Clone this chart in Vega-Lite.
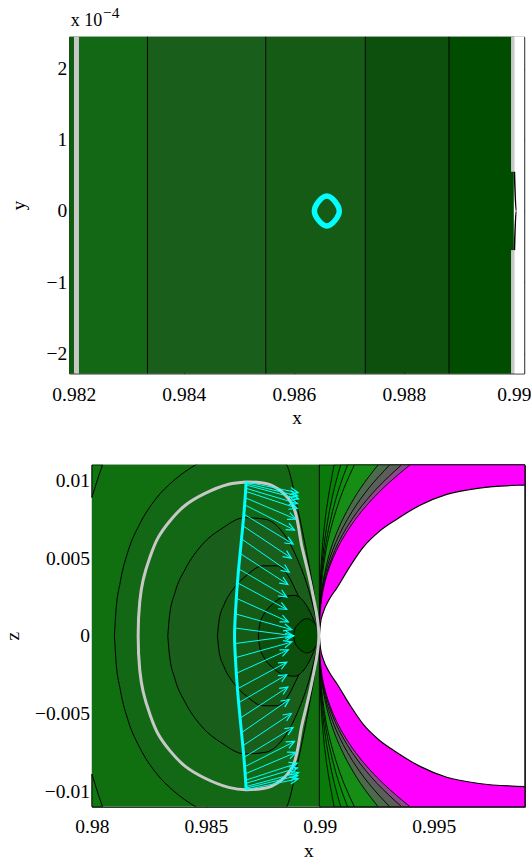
{
  "$schema": "https://vega.github.io/schema/vega-lite/v6.json",
  "padding": {"left": 2.2, "top": 4.8, "right": 6, "bottom": 3},
  "background": "white",
  "columns": 1,
  "spacing": 36,
  "config": {
    "view": {"stroke": null},
    "font": "Liberation Serif",
    "axis": {
      "grid": false, "domainColor": "black", "domainWidth": 1, "tickColor": "black", "tickWidth": 1, "tickSize": -5,
      "labelFont": "Liberation Serif", "labelFontSize": 19.5, "labelColor": "black", "labelPadding": 7.5,
      "titleFont": "Liberation Serif", "titleFontSize": 19.5, "titleFontWeight": "normal", "titleColor": "black",
      "labelFlush": false, "labelOverlap": false, "labelBound": false
    }
  },
  "concat": [
    {
      "width": 455, "height": 336.6,
      "resolve": {"axis": {"x": "independent", "y": "independent"}},
      "layer": [
        {
          "data": {"values": [
            {"x0": 0.981918, "x1": 0.98203, "b": "b0"},
            {"x0": 0.98203, "x1": 0.98334, "b": "b1"},
            {"x0": 0.98334, "x1": 0.98549, "b": "b2"},
            {"x0": 0.98549, "x1": 0.98730, "b": "b3"},
            {"x0": 0.98730, "x1": 0.98882, "b": "b4"},
            {"x0": 0.98882, "x1": 0.99000, "b": "b5"},
            {"x0": 0.99000, "x1": 0.990187, "b": "w"}
          ]},
          "mark": {"type": "rect"},
          "encoding": {
            "x": {"field": "x0", "type": "quantitative", "scale": {"domain": [0.981918, 0.990187], "nice": false, "zero": false}, "axis": null},
            "x2": {"field": "x1"},
            "color": {"field": "b", "type": "nominal", "legend": null,
                      "scale": {"domain": ["b0", "b1", "b2", "b3", "b4", "b5", "w"],
                                "range": ["#0e5c10", "#136816", "#1a5e1b", "#155a15", "#0d500d", "#004d00", "#ffffff"]}}
          }
        },
        {
          "data": {"values": [{"x": 0.98334}, {"x": 0.98549}, {"x": 0.98730}, {"x": 0.98882}]},
          "mark": {"type": "rule", "color": "black", "strokeWidth": 1},
          "encoding": {
            "x": {"field": "x", "type": "quantitative", "scale": {"domain": [0.981918, 0.990187], "nice": false, "zero": false}, "axis": null}
          }
        },
        {
          "data": {"values": [{"x": 0.98205}]},
          "mark": {"type": "rule", "color": "#c8c8c8", "strokeWidth": 5},
          "encoding": {
            "x": {"field": "x", "type": "quantitative", "scale": {"domain": [0.981918, 0.990187], "nice": false, "zero": false}, "axis": null}
          }
        },
        {
          "data": {"values": [{"x": 0.98998, "y1": 0.55, "y2": 2.444}, {"x": 0.98998, "y1": -2.28, "y2": -0.55}]},
          "mark": {"type": "rule", "color": "#c8c8c8", "strokeWidth": 3.5},
          "encoding": {
            "x": {"field": "x", "type": "quantitative", "scale": {"domain": [0.981918, 0.990187], "nice": false, "zero": false},
                  "axis": {"orient": "top", "values": [0.982, 0.984, 0.986, 0.988, 0.99], "labels": false,
                           "title": "x 10", "titleFontSize": 18, "titleX": 1, "titleY": -11.3, "titleAngle": 0, "titleAlign": "left", "titleBaseline": "alphabetic"}},
            "y": {"field": "y1", "type": "quantitative", "scale": {"domain": [-2.28, 2.444], "nice": false, "zero": false},
                  "axis": {"orient": "right", "values": [-2, -1, 0, 1, 2], "labels": false,
                           "title": "−4", "titleX": -421.7, "titleY": -19.7, "titleAngle": 0, "titleAlign": "left", "titleBaseline": "alphabetic", "titleFontSize": 15.5}},
            "y2": {"field": "y2"}
          }
        },
        {
          "data": {"values": [{"x": 0.99001, "y": 0.55, "i": 1}, {"x": 0.99004, "y": 0, "i": 2}, {"x": 0.99001, "y": -0.55, "i": 3}]},
          "mark": {"type": "line", "color": "black", "strokeWidth": 1.5, "interpolate": "monotone"},
          "encoding": {
            "x": {"field": "x", "type": "quantitative", "scale": {"domain": [0.981918, 0.990187], "nice": false, "zero": false}, "axis": null},
            "y": {"field": "y", "type": "quantitative", "scale": {"domain": [-2.28, 2.444], "nice": false, "zero": false}, "axis": null},
            "order": {"field": "i"}
          }
        },
        {
          "data": {"values": [{"x": 0.98660, "y": 0}]},
          "mark": {"type": "point", "filled": false, "opacity": 1, "stroke": "#00ffff", "strokeWidth": 5.5, "size": 900,
                   "shape": "M0,-1C0.35,-1,0.83,-0.35,0.83,0C0.83,0.35,0.35,1,0,1C-0.35,1,-0.83,0.35,-0.83,0C-0.83,-0.35,-0.35,-1,0,-1Z"},
          "encoding": {
            "x": {"field": "x", "type": "quantitative", "scale": {"domain": [0.981918, 0.990187], "nice": false, "zero": false},
                  "axis": {"orient": "bottom", "values": [0.982, 0.984, 0.986, 0.988, 0.99], "format": ".3~f", "title": "x",
                           "labelBaseline": "middle", "labelPadding": 26, "titleY": 44.5, "titleBaseline": "middle"}},
            "y": {"field": "y", "type": "quantitative", "scale": {"domain": [-2.28, 2.444], "nice": false, "zero": false},
                  "axis": {"orient": "left", "values": [-2, -1, 0, 1, 2], "format": "d",
                           "title": "y", "titleX": -45, "titleAngle": 270, "titleBaseline": "alphabetic"}}
          }
        }
      ]
    },
    {
      "width": 455.7, "height": 342,
      "resolve": {"axis": {"x": "independent", "y": "independent"}, "scale": {"color": "independent"}},
      "layer": [
        {
          "data": {"values": [{"a": 1}]},
          "mark": {"type": "rect", "color": "#107010"},
          "encoding": {
            "x": {"datum": 0.98, "type": "quantitative", "scale": {"domain": [0.98, 0.999], "range": [22.7, 455.7], "nice": false, "zero": false}, "axis": null},
            "x2": {"datum": 0.999}
          }
        },
        {
          "data": {"values": [
            {"g": "t", "x": 0.98, "a": 0.0089, "b": 0.011},
            {"g": "t", "x": 0.98015, "a": 0.0096, "b": 0.011},
            {"g": "t", "x": 0.98030, "a": 0.0103, "b": 0.011},
            {"g": "t", "x": 0.98047, "a": 0.011, "b": 0.011},
            {"g": "b", "x": 0.98, "a": -0.011, "b": -0.0089},
            {"g": "b", "x": 0.98015, "a": -0.011, "b": -0.0096},
            {"g": "b", "x": 0.98030, "a": -0.011, "b": -0.0103},
            {"g": "b", "x": 0.98047, "a": -0.011, "b": -0.011}
          ]},
          "mark": {"type": "area", "color": "#0f780f", "stroke": "black", "strokeWidth": 1, "clip": true},
          "encoding": {
            "x": {"field": "x", "type": "quantitative", "scale": {"domain": [0.98, 0.999], "range": [22.7, 455.7], "nice": false, "zero": false},
                  "axis": {"orient": "top", "values": [0.98, 0.985, 0.99, 0.995], "labels": false, "title": null}},
            "y": {"field": "a", "type": "quantitative", "scale": {"domain": [-0.011, 0.011], "nice": false, "zero": false},
                  "axis": {"orient": "right", "values": [-0.01, -0.005, 0, 0.005, 0.01], "labels": false, "title": null}},
            "y2": {"field": "b"},
            "detail": {"field": "g"}
          }
        },
        {
          "data": {"values": [
            {"l": "B", "x": 0.98099, "zt": 0, "zb": 0},
            {"l": "B", "x": 0.98105, "zt": 0.0015, "zb": -0.0015},
            {"l": "B", "x": 0.98125, "zt": 0.0035, "zb": -0.0035},
            {"l": "B", "x": 0.98160, "zt": 0.0055, "zb": -0.0055},
            {"l": "B", "x": 0.98210, "zt": 0.0072, "zb": -0.0072},
            {"l": "B", "x": 0.98280, "zt": 0.0088, "zb": -0.0088},
            {"l": "B", "x": 0.98360, "zt": 0.0100, "zb": -0.0100},
            {"l": "B", "x": 0.98455, "zt": 0.0110, "zb": -0.0110},
            {"l": "B", "x": 0.98600, "zt": 0.0120, "zb": -0.0120},
            {"l": "B", "x": 0.98700, "zt": 0.0122, "zb": -0.0122},
            {"l": "B", "x": 0.98800, "zt": 0.0118, "zb": -0.0118},
            {"l": "B", "x": 0.98855, "zt": 0.0110, "zb": -0.0110},
            {"l": "B", "x": 0.98907, "zt": 0.0079, "zb": -0.0079},
            {"l": "B", "x": 0.98952, "zt": 0.0046, "zb": -0.0046},
            {"l": "B", "x": 0.98981, "zt": 0.0021, "zb": -0.0021},
            {"l": "B", "x": 0.98998, "zt": 0, "zb": 0},
            {"l": "C", "x": 0.98333, "zt": 0, "zb": 0},
            {"l": "C", "x": 0.98340, "zt": 0.0012, "zb": -0.0012},
            {"l": "C", "x": 0.98365, "zt": 0.0028, "zb": -0.0028},
            {"l": "C", "x": 0.98410, "zt": 0.0043, "zb": -0.0043},
            {"l": "C", "x": 0.98480, "zt": 0.0058, "zb": -0.0058},
            {"l": "C", "x": 0.98570, "zt": 0.0069, "zb": -0.0069},
            {"l": "C", "x": 0.98670, "zt": 0.0076, "zb": -0.0076},
            {"l": "C", "x": 0.98760, "zt": 0.0075, "zb": -0.0075},
            {"l": "C", "x": 0.98840, "zt": 0.0066, "zb": -0.0066},
            {"l": "C", "x": 0.98900, "zt": 0.0050, "zb": -0.0050},
            {"l": "C", "x": 0.98950, "zt": 0.0030, "zb": -0.0030},
            {"l": "C", "x": 0.98980, "zt": 0.0013, "zb": -0.0013},
            {"l": "C", "x": 0.98998, "zt": 0, "zb": 0},
            {"l": "D", "x": 0.98551, "zt": 0, "zb": 0},
            {"l": "D", "x": 0.98558, "zt": 0.0010, "zb": -0.0010},
            {"l": "D", "x": 0.98580, "zt": 0.0020, "zb": -0.0020},
            {"l": "D", "x": 0.98620, "zt": 0.0030, "zb": -0.0030},
            {"l": "D", "x": 0.98680, "zt": 0.0039, "zb": -0.0039},
            {"l": "D", "x": 0.98750, "zt": 0.0045, "zb": -0.0045},
            {"l": "D", "x": 0.98810, "zt": 0.0045, "zb": -0.0045},
            {"l": "D", "x": 0.98860, "zt": 0.0039, "zb": -0.0039},
            {"l": "D", "x": 0.98905, "zt": 0.0026, "zb": -0.0026},
            {"l": "D", "x": 0.98960, "zt": 0.0011, "zb": -0.0011},
            {"l": "D", "x": 0.98998, "zt": 0, "zb": 0},
            {"l": "E", "x": 0.98730, "zt": 0, "zb": 0},
            {"l": "E", "x": 0.98736, "zt": 0.0007, "zb": -0.0007},
            {"l": "E", "x": 0.98755, "zt": 0.0014, "zb": -0.0014},
            {"l": "E", "x": 0.98790, "zt": 0.0020, "zb": -0.0020},
            {"l": "E", "x": 0.98840, "zt": 0.0025, "zb": -0.0025},
            {"l": "E", "x": 0.98890, "zt": 0.0026, "zb": -0.0026},
            {"l": "E", "x": 0.98930, "zt": 0.0022, "zb": -0.0022},
            {"l": "E", "x": 0.98965, "zt": 0.0013, "zb": -0.0013},
            {"l": "E", "x": 0.98998, "zt": 0, "zb": 0},
            {"l": "F", "x": 0.98886, "zt": 0, "zb": 0},
            {"l": "F", "x": 0.98890, "zt": 0.0004, "zb": -0.0004},
            {"l": "F", "x": 0.98902, "zt": 0.0007, "zb": -0.0007},
            {"l": "F", "x": 0.98922, "zt": 0.00098, "zb": -0.00098},
            {"l": "F", "x": 0.98943, "zt": 0.0011, "zb": -0.0011},
            {"l": "F", "x": 0.98965, "zt": 0.00098, "zb": -0.00098},
            {"l": "F", "x": 0.98982, "zt": 0.0007, "zb": -0.0007},
            {"l": "F", "x": 0.98993, "zt": 0.0004, "zb": -0.0004},
            {"l": "F", "x": 0.99000, "zt": 0, "zb": 0}
          ]},
          "mark": {"type": "area", "stroke": "black", "strokeWidth": 1, "clip": true, "interpolate": "monotone"},
          "encoding": {
            "x": {"field": "x", "type": "quantitative", "scale": {"domain": [0.98, 0.999], "range": [22.7, 455.7], "nice": false, "zero": false},
                  "axis": {"orient": "bottom", "values": [0.98, 0.985, 0.99, 0.995], "format": ".3~f", "title": "x",
                           "labelBaseline": "middle", "labelPadding": 24.4, "titleY": 44, "titleX": 239.2, "titleBaseline": "middle"}},
            "y": {"field": "zt", "type": "quantitative", "scale": {"domain": [-0.011, 0.011], "nice": false, "zero": false},
                  "axis": {"orient": "left", "offset": -22.7, "values": [-0.01, -0.005, 0, 0.005, 0.01], "format": ".3~f",
                           "title": "z", "titleX": -73.4, "titleAngle": 270, "titleBaseline": "alphabetic"}},
            "y2": {"field": "zb"},
            "color": {"field": "l", "type": "nominal", "legend": null,
                      "scale": {"domain": ["B", "C", "D", "E", "F"], "range": ["#136816", "#1a5e1b", "#155a15", "#0d500d", "#004d00"]}}
          }
        },
        {
          "data": {"values": [
            {"l": "R1", "z": -0.011, "x": 0.98998}, {"l": "R1", "z": 0, "x": 0.98998}, {"l": "R1", "z": 0.011, "x": 0.98998},
            {"l": "R2", "z": -0.011, "x": 0.99063}, {"l": "R2", "z": -0.0095, "x": 0.99044}, {"l": "R2", "z": -0.008, "x": 0.99028}, {"l": "R2", "z": -0.006, "x": 0.99013}, {"l": "R2", "z": -0.004, "x": 0.99004}, {"l": "R2", "z": -0.002, "x": 0.99000}, {"l": "R2", "z": 0, "x": 0.98998}, {"l": "R2", "z": 0.002, "x": 0.99000}, {"l": "R2", "z": 0.004, "x": 0.99004}, {"l": "R2", "z": 0.006, "x": 0.99013}, {"l": "R2", "z": 0.008, "x": 0.99028}, {"l": "R2", "z": 0.0095, "x": 0.99044}, {"l": "R2", "z": 0.011, "x": 0.99063},
            {"l": "R3", "z": -0.011, "x": 0.99092}, {"l": "R3", "z": -0.0095, "x": 0.99064}, {"l": "R3", "z": -0.008, "x": 0.99042}, {"l": "R3", "z": -0.006, "x": 0.99020}, {"l": "R3", "z": -0.004, "x": 0.99006}, {"l": "R3", "z": -0.002, "x": 0.99000}, {"l": "R3", "z": 0, "x": 0.98998}, {"l": "R3", "z": 0.002, "x": 0.99000}, {"l": "R3", "z": 0.004, "x": 0.99006}, {"l": "R3", "z": 0.006, "x": 0.99020}, {"l": "R3", "z": 0.008, "x": 0.99042}, {"l": "R3", "z": 0.0095, "x": 0.99064}, {"l": "R3", "z": 0.011, "x": 0.99092},
            {"l": "R4", "z": -0.011, "x": 0.99122}, {"l": "R4", "z": -0.0095, "x": 0.99085}, {"l": "R4", "z": -0.008, "x": 0.99056}, {"l": "R4", "z": -0.006, "x": 0.99027}, {"l": "R4", "z": -0.004, "x": 0.99009}, {"l": "R4", "z": -0.002, "x": 0.99000}, {"l": "R4", "z": 0, "x": 0.98998}, {"l": "R4", "z": 0.002, "x": 0.99000}, {"l": "R4", "z": 0.004, "x": 0.99009}, {"l": "R4", "z": 0.006, "x": 0.99027}, {"l": "R4", "z": 0.008, "x": 0.99056}, {"l": "R4", "z": 0.0095, "x": 0.99085}, {"l": "R4", "z": 0.011, "x": 0.99122},
            {"l": "R5", "z": -0.011, "x": 0.99152}, {"l": "R5", "z": -0.0095, "x": 0.99106}, {"l": "R5", "z": -0.008, "x": 0.99070}, {"l": "R5", "z": -0.006, "x": 0.99034}, {"l": "R5", "z": -0.004, "x": 0.99012}, {"l": "R5", "z": -0.002, "x": 0.99001}, {"l": "R5", "z": 0, "x": 0.98998}, {"l": "R5", "z": 0.002, "x": 0.99001}, {"l": "R5", "z": 0.004, "x": 0.99012}, {"l": "R5", "z": 0.006, "x": 0.99034}, {"l": "R5", "z": 0.008, "x": 0.99070}, {"l": "R5", "z": 0.0095, "x": 0.99106}, {"l": "R5", "z": 0.011, "x": 0.99152},
            {"l": "R6", "z": -0.011, "x": 0.99256}, {"l": "R6", "z": -0.0095, "x": 0.99179}, {"l": "R6", "z": -0.008, "x": 0.99118}, {"l": "R6", "z": -0.006, "x": 0.99058}, {"l": "R6", "z": -0.004, "x": 0.99021}, {"l": "R6", "z": -0.002, "x": 0.99002}, {"l": "R6", "z": 0, "x": 0.98998}, {"l": "R6", "z": 0.002, "x": 0.99002}, {"l": "R6", "z": 0.004, "x": 0.99021}, {"l": "R6", "z": 0.006, "x": 0.99058}, {"l": "R6", "z": 0.008, "x": 0.99118}, {"l": "R6", "z": 0.0095, "x": 0.99179}, {"l": "R6", "z": 0.011, "x": 0.99256},
            {"l": "R7", "z": -0.011, "x": 0.99307}, {"l": "R7", "z": -0.0095, "x": 0.99215}, {"l": "R7", "z": -0.008, "x": 0.99142}, {"l": "R7", "z": -0.006, "x": 0.99070}, {"l": "R7", "z": -0.004, "x": 0.99025}, {"l": "R7", "z": -0.002, "x": 0.99003}, {"l": "R7", "z": 0, "x": 0.98998}, {"l": "R7", "z": 0.002, "x": 0.99003}, {"l": "R7", "z": 0.004, "x": 0.99025}, {"l": "R7", "z": 0.006, "x": 0.99070}, {"l": "R7", "z": 0.008, "x": 0.99142}, {"l": "R7", "z": 0.0095, "x": 0.99215}, {"l": "R7", "z": 0.011, "x": 0.99307},
            {"l": "R8", "z": -0.011, "x": 0.99359}, {"l": "R8", "z": -0.0095, "x": 0.99252}, {"l": "R8", "z": -0.008, "x": 0.99166}, {"l": "R8", "z": -0.006, "x": 0.99082}, {"l": "R8", "z": -0.004, "x": 0.99030}, {"l": "R8", "z": -0.002, "x": 0.99004}, {"l": "R8", "z": 0, "x": 0.98998}, {"l": "R8", "z": 0.002, "x": 0.99004}, {"l": "R8", "z": 0.004, "x": 0.99030}, {"l": "R8", "z": 0.006, "x": 0.99082}, {"l": "R8", "z": 0.008, "x": 0.99166}, {"l": "R8", "z": 0.0095, "x": 0.99252}, {"l": "R8", "z": 0.011, "x": 0.99359},
            {"l": "R9", "z": -0.011, "x": 0.99396}, {"l": "R9", "z": -0.0095, "x": 0.99278}, {"l": "R9", "z": -0.008, "x": 0.99183}, {"l": "R9", "z": -0.006, "x": 0.99091}, {"l": "R9", "z": -0.004, "x": 0.99033}, {"l": "R9", "z": -0.002, "x": 0.99005}, {"l": "R9", "z": 0, "x": 0.98998}, {"l": "R9", "z": 0.002, "x": 0.99005}, {"l": "R9", "z": 0.004, "x": 0.99033}, {"l": "R9", "z": 0.006, "x": 0.99091}, {"l": "R9", "z": 0.008, "x": 0.99183}, {"l": "R9", "z": 0.0095, "x": 0.99278}, {"l": "R9", "z": 0.011, "x": 0.99396}
          ]},
          "mark": {"type": "area", "orient": "horizontal", "stroke": "black", "strokeWidth": 0.9, "clip": true, "interpolate": "monotone"},
          "encoding": {
            "y": {"field": "z", "type": "quantitative", "scale": {"domain": [-0.011, 0.011], "nice": false, "zero": false}, "axis": null},
            "x": {"field": "x", "type": "quantitative", "stack": null, "scale": {"domain": [0.98, 0.999], "range": [22.7, 455.7], "nice": false, "zero": false}, "axis": null},
            "x2": {"datum": 0.999},
            "color": {"field": "l", "type": "nominal", "legend": null,
                      "scale": {"domain": ["R1", "R2", "R3", "R4", "R5", "R6", "R7", "R8", "R9"],
                                "range": ["#0a7a0a", "#048404", "#098c09", "#0f8f0f", "#168e16", "#4b6b4b", "#5a5f5a", "#8a4a8a", "#ff00ff"]}}
          }
        },
        {
          "data": {"values": [
            {"x": 0.98998, "zt": 0, "zb": 0},
            {"x": 0.99003, "zt": 0.0008, "zb": -0.0008},
            {"x": 0.99015, "zt": 0.0015, "zb": -0.0015},
            {"x": 0.99040, "zt": 0.0023, "zb": -0.0023},
            {"x": 0.99076, "zt": 0.0031, "zb": -0.0031},
            {"x": 0.99130, "zt": 0.0044, "zb": -0.0044},
            {"x": 0.99191, "zt": 0.0057, "zb": -0.0057},
            {"x": 0.99260, "zt": 0.0067, "zb": -0.0067},
            {"x": 0.99338, "zt": 0.0075, "zb": -0.0075},
            {"x": 0.99440, "zt": 0.0084, "zb": -0.0084},
            {"x": 0.99557, "zt": 0.0091, "zb": -0.0091},
            {"x": 0.99700, "zt": 0.0095, "zb": -0.0095},
            {"x": 0.99900, "zt": 0.0097, "zb": -0.0097}
          ]},
          "mark": {"type": "area", "color": "white", "stroke": "black", "strokeWidth": 1.2, "clip": true, "interpolate": "monotone"},
          "encoding": {
            "x": {"field": "x", "type": "quantitative", "scale": {"domain": [0.98, 0.999], "range": [22.7, 455.7], "nice": false, "zero": false}, "axis": null},
            "y": {"field": "zt", "type": "quantitative", "scale": {"domain": [-0.011, 0.011], "nice": false, "zero": false}, "axis": null},
            "y2": {"field": "zb"}
          }
        },
        {
          "data": {"values": [
            {"i": 1, "x": 0.98677, "z": 0.0099}, {"i": 2, "x": 0.98600, "z": 0.00975}, {"i": 3, "x": 0.98492, "z": 0.00913},
            {"i": 4, "x": 0.98410, "z": 0.0084}, {"i": 5, "x": 0.98344, "z": 0.00742}, {"i": 6, "x": 0.98290, "z": 0.0063},
            {"i": 7, "x": 0.98255, "z": 0.00507}, {"i": 8, "x": 0.98225, "z": 0.0036}, {"i": 9, "x": 0.98210, "z": 0.0022},
            {"i": 10, "x": 0.98203, "z": 0}, {"i": 11, "x": 0.98210, "z": -0.0022}, {"i": 12, "x": 0.98225, "z": -0.0036},
            {"i": 13, "x": 0.98255, "z": -0.00507}, {"i": 14, "x": 0.98290, "z": -0.0063}, {"i": 15, "x": 0.98344, "z": -0.00742},
            {"i": 16, "x": 0.98410, "z": -0.0084}, {"i": 17, "x": 0.98492, "z": -0.00913}, {"i": 18, "x": 0.98600, "z": -0.00975},
            {"i": 19, "x": 0.98677, "z": -0.0099}, {"i": 20, "x": 0.98789, "z": -0.00967}, {"i": 21, "x": 0.98878, "z": -0.00849},
            {"i": 22, "x": 0.98922, "z": -0.00571}, {"i": 23, "x": 0.98966, "z": -0.00293}, {"i": 24, "x": 0.98996, "z": 0},
            {"i": 25, "x": 0.98966, "z": 0.00293}, {"i": 26, "x": 0.98922, "z": 0.00571}, {"i": 27, "x": 0.98878, "z": 0.00849},
            {"i": 28, "x": 0.98789, "z": 0.00967}, {"i": 29, "x": 0.98677, "z": 0.0099}
          ]},
          "mark": {"type": "line", "color": "#c8c8c8", "strokeWidth": 3, "interpolate": "catmull-rom", "clip": true},
          "encoding": {
            "x": {"field": "x", "type": "quantitative", "scale": {"domain": [0.98, 0.999], "range": [22.7, 455.7], "nice": false, "zero": false}, "axis": null},
            "y": {"field": "z", "type": "quantitative", "scale": {"domain": [-0.011, 0.011], "nice": false, "zero": false}, "axis": null},
            "order": {"field": "i"}
          }
        },
        {
          "data": {"values": [
            {"i": 1, "x": 0.98677, "z": 0.0099}, {"i": 2, "x": 0.98668, "z": 0.0080}, {"i": 3, "x": 0.98655, "z": 0.0060},
            {"i": 4, "x": 0.98642, "z": 0.0040}, {"i": 5, "x": 0.98632, "z": 0.0020}, {"i": 6, "x": 0.98626, "z": 0},
            {"i": 7, "x": 0.98632, "z": -0.0020}, {"i": 8, "x": 0.98642, "z": -0.0040}, {"i": 9, "x": 0.98655, "z": -0.0060},
            {"i": 10, "x": 0.98668, "z": -0.0080}, {"i": 11, "x": 0.98677, "z": -0.0099}
          ]},
          "mark": {"type": "line", "color": "#00ffff", "strokeWidth": 3, "interpolate": "catmull-rom"},
          "encoding": {
            "x": {"field": "x", "type": "quantitative", "scale": {"domain": [0.98, 0.999], "range": [22.7, 455.7], "nice": false, "zero": false}, "axis": null},
            "y": {"field": "z", "type": "quantitative", "scale": {"domain": [-0.011, 0.011], "nice": false, "zero": false}, "axis": null},
            "order": {"field": "i"}
          }
        },
        {
          "data": {"name": "arrows", "values": [
            {"x": 0.98677, "z": 0.0099, "xh": 0.98905, "zh": 0.0092},
            {"x": 0.98676, "z": 0.0098, "xh": 0.98903, "zh": 0.0090},
            {"x": 0.98676, "z": 0.0097, "xh": 0.98907, "zh": 0.0088},
            {"x": 0.98674, "z": 0.0095, "xh": 0.98902, "zh": 0.0085},
            {"x": 0.98673, "z": 0.0093, "xh": 0.98901, "zh": 0.0082},
            {"x": 0.98670, "z": 0.0089, "xh": 0.98895, "zh": 0.0075},
            {"x": 0.98667, "z": 0.00845, "xh": 0.98889, "zh": 0.0068},
            {"x": 0.98664, "z": 0.00785, "xh": 0.98883, "zh": 0.0059},
            {"x": 0.98660, "z": 0.0071, "xh": 0.98875, "zh": 0.0050},
            {"x": 0.98655, "z": 0.00625, "xh": 0.98866, "zh": 0.0041},
            {"x": 0.98650, "z": 0.0053, "xh": 0.98860, "zh": 0.0033},
            {"x": 0.98645, "z": 0.0043, "xh": 0.98855, "zh": 0.0025},
            {"x": 0.98640, "z": 0.0034, "xh": 0.98855, "zh": 0.0017},
            {"x": 0.98636, "z": 0.0024, "xh": 0.98862, "zh": 0.0009},
            {"x": 0.98632, "z": 0.0014, "xh": 0.98877, "zh": 0.0004},
            {"x": 0.98628, "z": 0.0005, "xh": 0.98885, "zh": 0.0000},
            {"x": 0.98628, "z": -0.0005, "xh": 0.98885, "zh": 0.0000},
            {"x": 0.98632, "z": -0.0014, "xh": 0.98877, "zh": -0.0004},
            {"x": 0.98636, "z": -0.0024, "xh": 0.98862, "zh": -0.0009},
            {"x": 0.98640, "z": -0.0034, "xh": 0.98855, "zh": -0.0017},
            {"x": 0.98645, "z": -0.0043, "xh": 0.98855, "zh": -0.0025},
            {"x": 0.98650, "z": -0.0053, "xh": 0.98860, "zh": -0.0033},
            {"x": 0.98655, "z": -0.00625, "xh": 0.98866, "zh": -0.0041},
            {"x": 0.98660, "z": -0.0071, "xh": 0.98875, "zh": -0.0050},
            {"x": 0.98664, "z": -0.00785, "xh": 0.98883, "zh": -0.0059},
            {"x": 0.98667, "z": -0.00845, "xh": 0.98889, "zh": -0.0068},
            {"x": 0.98670, "z": -0.0089, "xh": 0.98895, "zh": -0.0075},
            {"x": 0.98673, "z": -0.0093, "xh": 0.98901, "zh": -0.0082},
            {"x": 0.98674, "z": -0.0095, "xh": 0.98902, "zh": -0.0085},
            {"x": 0.98676, "z": -0.0097, "xh": 0.98907, "zh": -0.0088},
            {"x": 0.98676, "z": -0.0098, "xh": 0.98903, "zh": -0.0090},
            {"x": 0.98677, "z": -0.0099, "xh": 0.98905, "zh": -0.0092}
          ]},
          "mark": {"type": "rule", "color": "#00ffff", "strokeWidth": 1},
          "encoding": {
            "x": {"field": "x", "type": "quantitative", "scale": {"domain": [0.98, 0.999], "range": [22.7, 455.7], "nice": false, "zero": false}, "axis": null},
            "y": {"field": "z", "type": "quantitative", "scale": {"domain": [-0.011, 0.011], "nice": false, "zero": false}, "axis": null},
            "x2": {"field": "xh"},
            "y2": {"field": "zh"}
          }
        },
        {
          "data": {"name": "arrows"},
          "transform": [{"calculate": "atan2(-(datum.zh - datum.z) * 15545, (datum.xh - datum.x) * 22789) * 180 / PI", "as": "ang"}],
          "mark": {"type": "point", "shape": "M-1,-0.45L0,0L-1,0.45", "filled": false, "opacity": 1, "stroke": "#00ffff", "strokeWidth": 1.2, "size": 260},
          "encoding": {
            "x": {"field": "xh", "type": "quantitative", "scale": {"domain": [0.98, 0.999], "range": [22.7, 455.7], "nice": false, "zero": false}, "axis": null},
            "y": {"field": "zh", "type": "quantitative", "scale": {"domain": [-0.011, 0.011], "nice": false, "zero": false}, "axis": null},
            "angle": {"field": "ang", "type": "quantitative", "scale": null}
          }
        }
      ]
    }
  ]
}
